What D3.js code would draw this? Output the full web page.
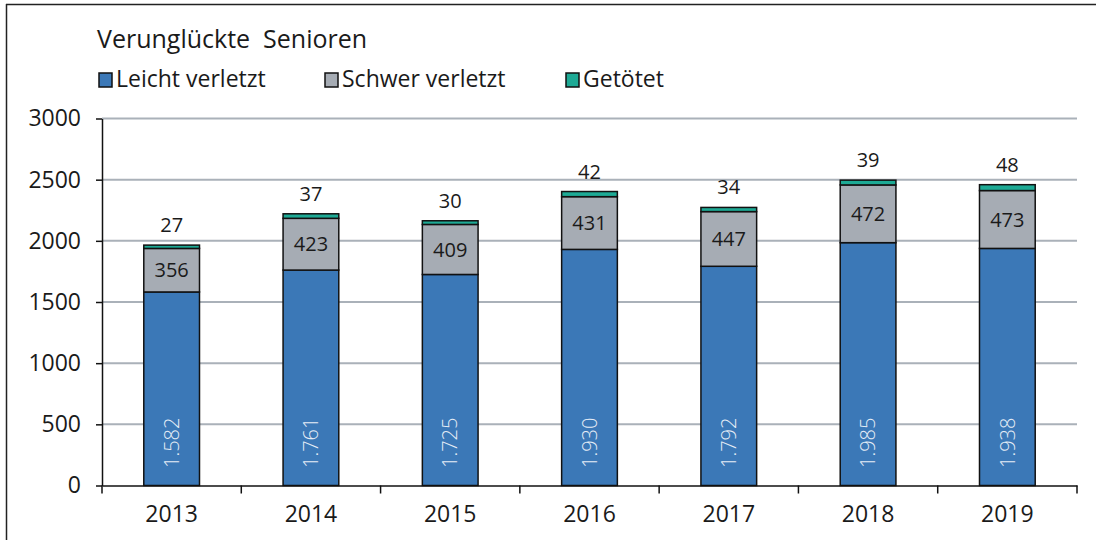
<!DOCTYPE html>
<html>
<head>
<meta charset="utf-8">
<script src="https://cdn.jsdelivr.net/npm/d3@7"></script>
<style>
  body { margin: 0; background: #fff; }
  svg { display: block; font-family: 'Open Sans', sans-serif; }
</style>
</head>
<body>
<svg id="chart"></svg>
<script>
const width = 1096;
const height = 540;

const years = ['2013', '2014', '2015', '2016', '2017', '2018', '2019'];
const leicht = [1582, 1761, 1725, 1930, 1792, 1985, 1938];
const schwer = [356, 423, 409, 431, 447, 472, 473];
const getoetet = [27, 37, 30, 42, 34, 39, 48];
const yTicks = [0, 500, 1000, 1500, 2000, 2500, 3000];

const seriesNames = ['Leicht verletzt', 'Schwer verletzt', 'Getötet'];
const colors = ['#3b78b7', '#a6acb4', '#1eaa95'];
const font = 'Open Sans';

const svg = d3.select('#chart')
            .attr('width', width)
            .attr('height', height);

svg.append('rect').attr('width', width).attr('height', height).attr('fill', '#fff');

// frame lines (top + left)
svg.append('line').attr('x1', 6).attr('x2', width).attr('y1', 4.5).attr('y2', 4.5)
   .attr('stroke', '#222').attr('stroke-width', 1.5);
svg.append('line').attr('x1', 6.5).attr('x2', 6.5).attr('y1', 4).attr('y2', height)
   .attr('stroke', '#222').attr('stroke-width', 1.5);

const x = d3.scaleBand().domain(years).range([102, 1077]).padding(0);
const y = d3.scaleLinear().domain([0, 3000]).range([485.5, 118.5]);
const barW = x.bandwidth() * 0.4;

// gridlines
svg.append('g').selectAll('line')
   .data(yTicks.filter(d => d > 0))
   .enter().append('line')
   .attr('x1', 102).attr('x2', 1077)
   .attr('y1', d => y(d)).attr('y2', d => y(d))
   .attr('stroke', '#aab1b9').attr('stroke-width', 2);

// stack data
const table = years.map((yr, i) => ({year: yr, l: leicht[i], s: schwer[i], g: getoetet[i]}));
const stacked = d3.stack().keys(['l', 's', 'g'])(table);

const bars = svg.append('g');
stacked.forEach((layer, k) => {
  bars.append('g').selectAll('rect')
    .data(layer)
    .enter().append('rect')
    .attr('x', d => x(d.data.year) + (x.bandwidth() - barW) / 2)
    .attr('width', barW)
    .attr('y', d => y(d[1]))
    .attr('height', d => y(d[0]) - y(d[1]))
    .attr('fill', colors[k])
    .attr('stroke', '#111')
    .attr('stroke-width', 1.5);
});

// y axis
const yAxis = svg.append('g').attr('transform', 'translate(102,0)')
  .call(d3.axisLeft(y).tickValues(yTicks).tickFormat(d3.format('d'))
        .tickSize(6).tickPadding(15).tickSizeOuter(0));
yAxis.select('.domain').attr('stroke', '#111').attr('stroke-width', 1.5);
yAxis.selectAll('.tick line').attr('stroke', '#111').attr('stroke-width', 1.5);
yAxis.selectAll('text').attr('font-size', 23).attr('fill', '#1a1a1a').attr('font-family', font);

// x axis
const xAxis = svg.append('g').attr('transform', `translate(0,${y(0)})`)
  .call(d3.axisBottom(x).tickSize(0).tickPadding(20).tickSizeOuter(0));
xAxis.select('.domain').attr('stroke', '#111').attr('stroke-width', 1.5);
xAxis.selectAll('text').attr('font-size', 23).attr('fill', '#1a1a1a').attr('font-family', font);
const bounds = years.map(d => x(d)).concat([x.range()[1]]);
xAxis.selectAll('.bound').data(bounds).enter().append('line')
  .attr('x1', d => d).attr('x2', d => d).attr('y1', 0).attr('y2', 8)
  .attr('stroke', '#111').attr('stroke-width', 1.5);

// labels
const cx = d => x(d.year) + x.bandwidth() / 2;
const labels = svg.append('g').attr('font-family', font)
  .attr('font-size', 20).attr('text-anchor', 'middle');

labels.selectAll('.top').data(table).enter().append('text')
  .attr('x', cx).attr('y', d => y(d.l + d.s + d.g) - 13)
  .attr('fill', '#1a1a1a').text(d => d.g);

labels.selectAll('.mid').data(table).enter().append('text')
  .attr('x', cx).attr('y', d => y(d.l + d.s / 2)).attr('dy', '0.36em')
  .attr('fill', '#1a1a1a').text(d => d.s);

labels.selectAll('.low').data(table).enter().append('text')
  .attr('transform', d => `translate(${cx(d)},468) rotate(-90)`)
  .attr('text-anchor', 'start').attr('dy', '0.36em').attr('font-weight', 300)
  .attr('fill', '#e6edf6').text(d => d3.format(',')(d.l).replace(',', '.'));

// title
svg.append('text').attr('x', 97).attr('y', 48)
  .attr('font-size', 25).attr('fill', '#1a1a1a')
  .attr('xml:space', 'preserve').style('white-space', 'pre')
  .text('Verunglückte  Senioren');

// legend
const legX = [99, 325, 566];
const legend = svg.append('g').selectAll('g').data(seriesNames).enter().append('g')
  .attr('transform', (d, i) => `translate(${legX[i]},73)`);
legend.append('rect').attr('width', 13).attr('height', 14)
  .attr('fill', (d, i) => colors[i]).attr('stroke', '#111').attr('stroke-width', 1.5);
legend.append('text').attr('x', 17).attr('y', 14)
  .attr('font-size', 23).attr('fill', '#1a1a1a').text(d => d);
</script>
</body>
</html>
